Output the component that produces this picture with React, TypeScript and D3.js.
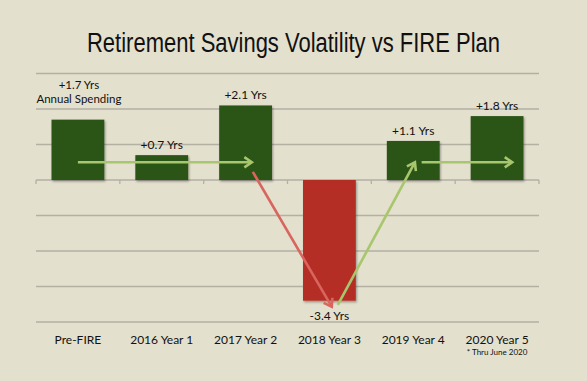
import React from "react";
import * as d3 from "d3";

const categories = ["Pre-FIRE", "2016 Year 1", "2017 Year 2", "2018 Year 3", "2019 Year 4", "2020 Year 5"];
const values = [1.7, 0.7, 2.1, -3.4, 1.1, 1.8];
const valueLabels = ["+1.7 Yrs", "+0.7 Yrs", "+2.1 Yrs", "-3.4 Yrs", "+1.1 Yrs", "+1.8 Yrs"];
const yTicks = [-4, -3, -2, -1, 0, 1, 2, 3];
// arrows: [fromIndex, fromValue, toIndex, toValue, kind]
const arrowFromIdx = [0, 2.086, 3.1, 4.1];
const arrowFromVal = [0.5, 0.23, -3.52, 0.5];
const arrowToIdx = [2.074, 3.028, 4.02, 5.18];
const arrowToVal = [0.5, -3.57, 0.5, 0.5];
const arrowKind = ["up", "down", "up", "up"];

const W = 587, H = 381;

export default function App() {
  const x = d3.scaleBand<string>().domain(categories).range([36, 539]).paddingInner(0.37).paddingOuter(0.185);
  const step = x.step();
  const xi = d3.scaleLinear().domain([0, 1]).range([36 + step / 2, 36 + step * 1.5]);
  const y = d3.scaleLinear().domain([-4, 3]).range([322, 73.5]);
  const bg = "#e3e0cd";
  const grid = "#b3b0a4";
  const font = "Lato, 'Open Sans', sans-serif";
  const arrowColor = (k: string) => (k === "up" ? "#a8c66e" : "#d9655f");

  return (
    <svg width={W} height={H} style={{ position: "fixed", left: 0, top: 0 }}>
      <defs>
        <filter id="sh" x="-20%" y="-20%" width="140%" height="140%">
          <feDropShadow dx="1" dy="1.5" stdDeviation="1.2" floodColor="#000" floodOpacity="0.35" />
        </filter>
      </defs>
      <rect width={W} height={H} fill={bg} />
      <g transform="translate(293.5,52) scale(0.815,1)">
        <text x={0} y={0} textAnchor="middle" fontFamily="'Liberation Sans', Arial, sans-serif"
          fontSize={27} fill="#111">
          Retirement Savings Volatility vs FIRE Plan
        </text>
      </g>
      {yTicks.map((t) => (
        <line key={t} x1={36} x2={539} y1={y(t)} y2={y(t)} stroke={grid} strokeWidth={1.6} />
      ))}
      {d3.range(categories.length + 1).map((i) => (
        <line key={"tk" + i} x1={36 + i * step} x2={36 + i * step} y1={y(0)} y2={y(0) + 4} stroke={grid} strokeWidth={1.3} />
      ))}
      {categories.map((c, i) => (
        <rect key={c} x={x(c)} width={x.bandwidth()} y={y(Math.max(0, values[i]))}
          height={Math.abs(y(values[i]) - y(0))} fill={values[i] >= 0 ? "#2a5516" : "#b52e25"} filter="url(#sh)" />
      ))}
      {arrowFromIdx.map((fi, i) => {
        const x1 = xi(fi), y1 = y(arrowFromVal[i]);
        const x2 = xi(arrowToIdx[i]), y2 = y(arrowToVal[i]);
        const ang = Math.atan2(y2 - y1, x2 - x1);
        const L = 9, a = 0.6;
        const p1 = [x2 - L * Math.cos(ang - a), y2 - L * Math.sin(ang - a)];
        const p2 = [x2 - L * Math.cos(ang + a), y2 - L * Math.sin(ang + a)];
        const col = arrowColor(arrowKind[i]);
        return (
          <g key={"ar" + i} stroke={col} strokeWidth={2.6} fill="none" strokeLinecap="butt">
            <line x1={x1} y1={y1} x2={x2 - Math.cos(ang) * 1} y2={y2 - Math.sin(ang) * 1} />
            <polyline points={`${p1[0]},${p1[1]} ${x2},${y2} ${p2[0]},${p2[1]}`} strokeLinejoin="miter" />
          </g>
        );
      })}
      {categories.map((c, i) => {
        const cx = (x(c) as number) + x.bandwidth() / 2;
        const v = values[i];
        if (i === 0) {
          return (
            <g key={"lb" + i} fontFamily={font} fontSize={11.5} fill="#111" textAnchor="middle">
              <text x={cx + 1} y={y(v) - 31}>{valueLabels[i]}</text>
              <text x={cx + 1} y={y(v) - 17}>Annual Spending</text>
            </g>
          );
        }
        return (
          <text key={"lb" + i} x={cx} y={v >= 0 ? y(v) - 6 : y(v) + 19} fontFamily={font} fontSize={12}
            fill="#111" textAnchor="middle">{valueLabels[i]}</text>
        );
      })}
      {categories.map((c) => (
        <text key={"xl" + c} x={(x(c) as number) + x.bandwidth() / 2} y={344} fontFamily={font} fontSize={12}
          fill="#111" textAnchor="middle">{c}</text>
      ))}
      <text x={(x(categories[5]) as number) + x.bandwidth() / 2} y={355} fontFamily={font} fontSize={8}
        fill="#111" textAnchor="middle">* Thru June 2020</text>
    </svg>
  );
}
